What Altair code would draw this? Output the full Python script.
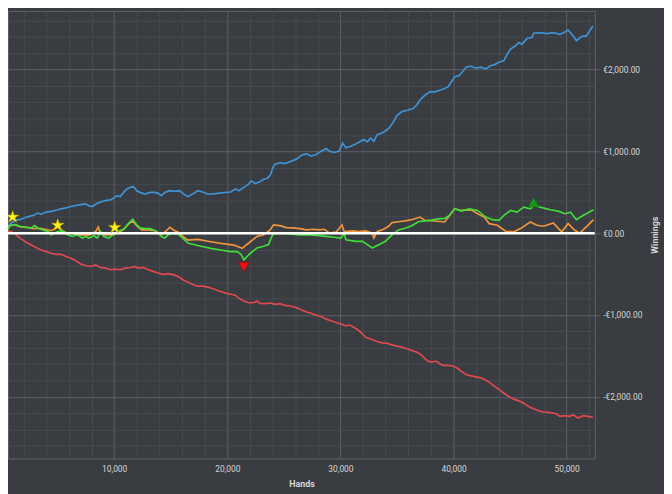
import altair as alt
import pandas as pd

# ---- data ----
blue_hands = [0, 495, 1223, 1659, 2242, 2824, 3261, 3552, 3989, 4571, 5007, 5299, 5736, 6172, 6609,
              7046, 7482, 7773, 8064, 8501, 8937, 9229, 9666, 9957, 10248, 10539, 10830, 11121,
              11412, 11704, 11995, 12286, 12723, 13159, 13596, 13887, 14178, 14469, 14906, 15343,
              15780, 16216, 16507, 16944, 17381, 17817, 18254, 18691, 19127, 19710, 20292, 20728,
              21020, 21457, 21893, 22097, 22475, 22912, 23203, 23553, 23844, 24019, 24222, 24659,
              25095, 25532, 26115, 26552, 26988, 27425, 27861, 28298, 28735, 29026, 29462, 29899,
              30193, 30482, 30918, 31355, 31792, 32083, 32374, 32665, 32956, 33250, 33687, 34124,
              34412, 34700, 34997, 35434, 36010, 36447, 36744, 37032, 37469, 37906, 38342, 38779,
              39216, 39506, 39801, 40089, 40526, 40814, 41111, 41548, 41984, 42421, 42858, 43295,
              43583, 44019, 44456, 44745, 45041, 45478, 45766, 46054, 46491, 46928, 47076, 47661,
              48238, 48824, 49408, 49845, 50133, 50570, 50860, 51296, 51733, 52029, 52318]
blue_vals = [0, 77, 157, 165, 197, 217, 246, 230, 258, 270, 286, 298, 310, 326, 338,
             350, 358, 334, 326, 366, 387, 399, 407, 431, 459, 447, 499, 540,
             560, 568, 519, 499, 479, 499, 499, 487, 459, 499, 519, 511,
             519, 471, 447, 479, 519, 503, 479, 479, 487, 495, 503, 540,
             519, 560, 600, 640, 608, 632, 660, 672, 721, 801, 842, 862,
             850, 874, 905, 954, 970, 942, 962, 1003, 1035, 1003, 987, 1003,
             1103, 1043, 1063, 1091, 1123, 1144, 1115, 1164, 1123, 1204, 1224, 1264,
             1305, 1365, 1438, 1486, 1506, 1526, 1566, 1627, 1687, 1727, 1727, 1748,
             1768, 1788, 1848, 1909, 1929, 1977, 2029, 2042, 2017, 2029, 2009, 2050,
             2058, 2090, 2110, 2190, 2251, 2291, 2331, 2311, 2380, 2392, 2444, 2452,
             2440, 2452, 2432, 2460, 2484, 2412, 2352, 2404, 2412, 2472, 2533]

red_hands = [0, 349, 786, 1223, 1514, 1805, 2242, 2679, 3115, 3552, 3989, 4425, 4862, 5299, 5736,
             6172, 6609, 7046, 7482, 7919, 8355, 8792, 9229, 9666, 10102, 10539, 10976, 11412,
             11791, 12140, 12577, 13014, 13450, 13887, 14324, 14760, 15197, 15634, 16071, 16507,
             16944, 17381, 17817, 18254, 18691, 19127, 19564, 20001, 20437, 20728, 21020, 21457,
             21893, 22330, 22621, 22912, 23349, 23786, 24222, 24659, 25095, 25532, 26115, 26552,
             26988, 27425, 27862, 28298, 28735, 29172, 29608, 30045, 30482, 30773, 31064, 31355,
             31646, 31937, 32228, 32665, 33247, 33684, 34120, 34557, 34994, 35430, 35867, 36304,
             36740, 37119, 37468, 37759, 38050, 38487, 38778, 39069, 39506, 39943, 40379, 40670,
             41107, 41543, 41980, 42417, 42853, 43290, 43581, 44018, 44454, 44891, 45328, 45764,
             46201, 46638, 47074, 47511, 47948, 48384, 48821, 49112, 49403, 49840, 50277, 50568,
             51004, 51441, 51878, 52314]
red_vals = [0, 24, 24, -4, -44, -72, -113, -145, -177, -205, -225, -246, -258, -258, -286,
            -306, -338, -378, -395, -407, -387, -419, -427, -447, -439, -447, -427, -419,
            -407, -427, -419, -447, -467, -487, -507, -495, -507, -528, -568, -596,
            -628, -648, -648, -660, -676, -701, -721, -737, -749, -761, -797, -830,
            -850, -850, -830, -858, -862, -854, -870, -862, -882, -890, -910, -938,
            -962, -978, -1003, -1019, -1051, -1071, -1091, -1111, -1132, -1123, -1140, -1164,
            -1192, -1232, -1272, -1293, -1325, -1341, -1345, -1365, -1381, -1393, -1413, -1434,
            -1454, -1486, -1534, -1566, -1574, -1566, -1595, -1615, -1615, -1623, -1655, -1687,
            -1727, -1744, -1756, -1768, -1796, -1836, -1868, -1909, -1957, -1997, -2029, -2050,
            -2078, -2118, -2146, -2170, -2186, -2190, -2199, -2211, -2239, -2231, -2239, -2219,
            -2259, -2231, -2239, -2251]

orange_hands = [0, 349, 786, 1223, 1659, 2245, 2821, 3406, 3991, 4428, 5005, 5441, 5878, 6315,
                6751, 7188, 7773, 8358, 8585, 8795, 9232, 9957, 10393, 10830, 11267, 11642,
                11992, 12429, 13014, 13599, 14175, 14614, 14909, 15346, 15634, 16071, 16507,
                17381, 18543, 19420, 20586, 21311, 22036, 22622, 23206, 23783, 24080, 24656,
                25241, 25826, 26403, 26988, 27573, 28150, 28587, 29023, 29608, 30132, 30333,
                31067, 31643, 32228, 32814, 32956, 33250, 33687, 34263, 34560, 35137, 35722,
                36307, 37032, 37469, 38342, 39216, 39653, 40089, 40674, 41548, 42125, 42710,
                43147, 43872, 44605, 45330, 45915, 46788, 47373, 47950, 48824, 49548, 50133,
                50719, 51156, 51733, 52378]
orange_vals = [0, 20, 92, 104, 80, 72, 56, 60, 44, 30, 76, 30, 0, 0,
               -20, -20, -24, 20, 76, -10, -20, -20, 10, 48, 110, 150,
               90, 40, 40, 30, -20, 30, 72, 30, 16, -40, -85,
               -75, -105, -125, -145, -185, -105, -40, -20, 40, 100, 92,
               68, 64, 56, 40, 48, 40, 48, 0, 12, 100, 20,
               28, 20, 28, 0, -60, 20, 40, 85, 130, 140, 150,
               165, 197, 157, 149, 137, 217, 298, 278, 286, 238, 197,
               117, 97, 24, 16, 56, 137, 97, 85, 125, 16, 117,
               36, 0, 76, 165]

green_hands = [0, 349, 786, 1223, 1659, 2245, 2681, 2970, 3258, 3694, 4131, 4428, 4716, 5005,
               5441, 5878, 6315, 6751, 7188, 7485, 7773, 8210, 8501, 8795, 9083, 9520, 9957,
               10393, 10830, 11267, 11642, 11992, 12289, 12725, 13162, 13599, 13887, 14175,
               14469, 14760, 15197, 15634, 16071, 16507, 17381, 18543, 19420, 20289, 20874,
               21224, 21459, 22036, 22447, 22622, 23206, 23643, 23931, 24080, 24656, 25529,
               26403, 27276, 28150, 28735, 29460, 30045, 30333, 30482, 31355, 31941, 32378,
               32814, 33391, 33975, 34560, 35137, 35722, 36307, 36885, 37469, 38054, 38631,
               39216, 39653, 40089, 40674, 41397, 42125, 42852, 43434, 44019, 44456, 45041,
               45617, 46203, 46788, 47076, 47660, 48535, 49262, 49844, 50337, 50860, 51446,
               52378]
green_vals = [0, -20, 92, 104, 85, 72, 64, 92, 60, 40, 20, -20, 0, 20,
              28, -20, -40, -20, -60, -40, -60, -32, -60, 20, -40, -60, -12,
              28, 48, 120, 170, 100, 64, 56, 56, 32, 4, -40,
              -60, -20, 0, -12, -60, -120, -150, -185, -205, -225, -225,
              -260, -326, -245, -200, -180, -160, -140, -40, -10, 0, -10,
              -20, -20, -30, -40, -50, -60, 0, -80, -100, -100, -140,
              -180, -140, -100, -20, 40, 60, 90, 140, 150, 160, 175,
              180, 220, 298, 270, 298, 278, 197, 165, 157, 217, 278,
              257, 318, 298, 338, 318, 286, 270, 238, 257, 165, 217,
              286]

star_hands = [1022, 5005, 10044]
star_vals = [197, 97, 69]
max_hands = [47076]
max_vals = [378]
min_hands = [21459]
min_vals = [-414]

# ---- styling ----
BG = "#393c40"
MAJOR = "#5e6166"
MINOR = "#474a4e"
TXT = "#d6d6d6"
FONT = "Roboto"
STAR = ("M0,-1L0.2245,-0.309L0.951,-0.309L0.363,0.118L0.588,0.809L0,0.382"
        "L-0.588,0.809L-0.363,0.118L-0.951,-0.309L-0.2245,-0.309Z")

x_axis = alt.Axis(
    values=list(range(2000, 52401, 2000)),
    labelExpr="datum.value % 10000 === 0 ? format(datum.value, ',') : ''",
    grid=True,
    gridColor={"condition": {"test": "datum.value % 10000 === 0", "value": MAJOR}, "value": MINOR},
    gridWidth=1, domain=False, ticks=False, labelOverlap=False, labelFlush=False,
    labelColor=TXT, labelFont=FONT, labelFontSize=8.5, labelPadding=6,
    title="Hands", titleColor=TXT, titleFont=FONT, titleFontSize=9, titleFontWeight="bold",
    titlePadding=7,
)
y_axis = alt.Axis(
    orient="right",
    values=list(range(-2600, 2601, 200)),
    labelExpr="datum.value % 1000 === 0 ? (datum.value < 0 ? '-€' : '€') + format(abs(datum.value), ',.2f') : ''",
    grid=True,
    gridColor={"condition": {"test": "datum.value % 1000 === 0", "value": MAJOR}, "value": MINOR},
    tickColor={"condition": {"test": "datum.value % 1000 === 0", "value": MAJOR}, "value": "transparent"},
    ticks=True, tickSize=5, domain=False, labelOverlap=False, labelFlush=False,
    labelColor=TXT, labelFont=FONT, labelFontSize=8.5, labelPadding=3,
    title="Winnings", titleAngle=270, titleColor=TXT, titleFont=FONT, titleFontSize=9,
    titleFontWeight="bold", titlePadding=18,
)

X = alt.X("hands:Q", scale=alt.Scale(domain=[611, 52491], nice=False, zero=False), axis=x_axis)
Y = alt.Y("value:Q", scale=alt.Scale(domain=[-2754, 2717], nice=False, zero=False), axis=y_axis)


def line(h, v, color):
    df = pd.DataFrame({"hands": h, "value": v})
    return alt.Chart(df).mark_line(color=color, strokeWidth=1.7, clip=True).encode(x=X, y=Y)


blue = line(blue_hands, blue_vals, "#3f93d4")
red = line(red_hands, red_vals, "#df4a4e")
orange = line(orange_hands, orange_vals, "#f0953c")
green = line(green_hands, green_vals, "#3fdc3a")

zero = alt.Chart(pd.DataFrame({"hands": [0, 52491], "value": [0, 0]})).mark_line(
    color="#ffffff", strokeWidth=2.5, clip=True).encode(x=X, y=Y)

stars = alt.Chart(pd.DataFrame({"hands": star_hands, "value": star_vals})).mark_point(
    shape=STAR, filled=True, size=170, fill="#fff21c", stroke="#b3a500", strokeWidth=0.6,
    opacity=1).encode(x=X, y=Y)
maxm = alt.Chart(pd.DataFrame({"hands": max_hands, "value": max_vals})).mark_point(
    shape="triangle-up", filled=True, size=120, fill="#16971a", stroke="#0e6e10", strokeWidth=0.6,
    opacity=1).encode(x=X, y=Y)
minm = alt.Chart(pd.DataFrame({"hands": min_hands, "value": min_vals})).mark_point(
    shape="triangle-down", filled=True, size=120, fill="#ee0f0f", stroke="#9c0b0b", strokeWidth=0.6,
    opacity=1).encode(x=X, y=Y)

chart = alt.layer(blue, red, orange, green, zero, stars, maxm, minm).properties(
    width=594, height=453,
    autosize=alt.AutoSizeParams(type="none"),
    padding={"left": 0, "top": 0, "right": 70, "bottom": 33},
    background=BG,
).configure_view(stroke=MAJOR, strokeWidth=1)

chart.save("out.html", embed_options={"renderer": "svg", "actions": False})
